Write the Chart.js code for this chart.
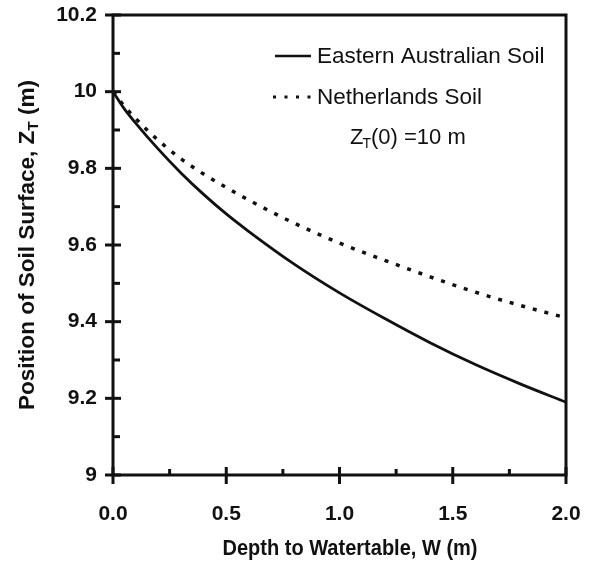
<!DOCTYPE html>
<html>
<head>
<meta charset="utf-8">
<script src="https://cdn.jsdelivr.net/npm/chart.js@4/dist/chart.umd.min.js"></script>
<style>
  html, body { margin: 0; padding: 0; background: #fff; }
  #wrap { width: 598px; height: 565px; }
</style>
</head>
<body>
<div id="wrap"><canvas id="c" width="598" height="565"></canvas></div>
<script>
// ---- data ----
const depthW = [0, 0.05, 0.1, 0.2, 0.3, 0.4, 0.5, 0.6, 0.8, 1.0, 1.2, 1.4, 1.6, 1.8, 2.0];
const easternAustralian = [10, 9.955, 9.918, 9.85, 9.788, 9.732, 9.681, 9.635, 9.55, 9.475, 9.408, 9.345, 9.288, 9.237, 9.19];
const netherlands = [10, 9.962, 9.93, 9.873, 9.825, 9.785, 9.75, 9.717, 9.657, 9.605, 9.56, 9.517, 9.477, 9.442, 9.41];
const seriesNames = ["Eastern Australian Soil", "Netherlands Soil"];
const xTitle = "Depth to Watertable, W (m)";
const yTitleParts = ["Position of Soil Surface, Z", "T", " (m)"];
const noteParts = ["Z", "T", "(0) =10 m"];

const INK = "#111";
const FONT = "'Liberation Sans', Arial, Helvetica, sans-serif";

function pts(xs, ys) { return xs.map((x, i) => ({ x: x, y: ys[i] })); }

const framePlugin = {
  id: "frame",
  afterDraw(chart) {
    const ctx = chart.ctx;
    const xs = chart.scales.x, ys = chart.scales.y;
    const a = chart.chartArea;
    ctx.save();
    ctx.strokeStyle = INK;
    ctx.lineWidth = 3;
    ctx.lineCap = "butt";
    // frame
    ctx.beginPath();
    ctx.moveTo(a.left - 1.5, a.top); ctx.lineTo(a.right + 1.5, a.top);
    ctx.moveTo(a.right, a.top); ctx.lineTo(a.right, a.bottom);
    ctx.moveTo(a.left, a.top); ctx.lineTo(a.left, a.bottom);
    ctx.moveTo(a.left - 1.5, a.bottom); ctx.lineTo(a.right + 1.5, a.bottom);
    ctx.stroke();
    // y ticks
    for (let k = 0; k <= 12; k++) {
      const v = 9 + k * 0.1;
      const py = ys.getPixelForValue(v);
      ctx.beginPath();
      if (k % 2 === 0) { ctx.moveTo(a.left - 8, py); ctx.lineTo(a.left + 8, py); }
      else { ctx.moveTo(a.left, py); ctx.lineTo(a.left + 7, py); }
      ctx.stroke();
    }
    // x ticks
    for (let k = 0; k <= 8; k++) {
      const v = k * 0.25;
      const px = xs.getPixelForValue(v);
      ctx.beginPath();
      if (k % 2 === 0) { ctx.moveTo(px, a.bottom - 8); ctx.lineTo(px, a.bottom + 9); }
      else { ctx.moveTo(px, a.bottom); ctx.lineTo(px, a.bottom - 6); }
      ctx.stroke();
    }
    // x title (slightly condensed, as in the reference)
    ctx.fillStyle = INK;
    ctx.textBaseline = "middle";
    ctx.save();
    ctx.translate(350, 549);
    ctx.scale(0.91, 1);
    ctx.font = "bold 22px " + FONT;
    ctx.textAlign = "center";
    ctx.fillText(xTitle, 0, 0);
    ctx.restore();

    // y title with subscript
    ctx.save();
    ctx.translate(28, 245);
    ctx.rotate(-Math.PI / 2);
    const big = "bold 22px " + FONT, small = "bold 15px " + FONT;
    ctx.font = big; const w0 = ctx.measureText(yTitleParts[0]).width;
    ctx.font = small; const w1 = ctx.measureText(yTitleParts[1]).width;
    ctx.font = big; const w2 = ctx.measureText(yTitleParts[2]).width;
    const tot = w0 + w1 + w2;
    ctx.scale(330 / tot, 1);
    let x0 = -tot / 2;
    ctx.textAlign = "left";
    ctx.font = big; ctx.fillText(yTitleParts[0], x0, 0);
    ctx.font = small; ctx.fillText(yTitleParts[1], x0 + w0, 6);
    ctx.font = big; ctx.fillText(yTitleParts[2], x0 + w0 + w1, 0);
    ctx.restore();

    // legend
    ctx.textAlign = "left";
    ctx.font = "22.5px " + FONT;
    ctx.lineWidth = 2.5;
    ctx.beginPath(); ctx.moveTo(275, 56); ctx.lineTo(311, 56); ctx.stroke();
    ctx.fillText(seriesNames[0], 317, 57);
    ctx.setLineDash([3, 8.5]);
    ctx.lineWidth = 3;
    ctx.beginPath(); ctx.moveTo(273, 97); ctx.lineTo(311, 97); ctx.stroke();
    ctx.setLineDash([]);
    ctx.fillText(seriesNames[1], 317, 98);
    // note
    ctx.font = "22px " + FONT; const n0 = ctx.measureText(noteParts[0]).width;
    ctx.font = "14px " + FONT; const n1 = ctx.measureText(noteParts[1]).width;
    let nx = 350;
    ctx.font = "22px " + FONT; ctx.fillText(noteParts[0], nx, 138);
    ctx.font = "14px " + FONT; ctx.fillText(noteParts[1], nx + n0 - 1, 144);
    ctx.font = "22px " + FONT; ctx.fillText(noteParts[2], nx + n0 + n1 - 1, 138);
    ctx.restore();
  }
};

new Chart(document.getElementById("c"), {
  type: "line",
  data: {
    datasets: [
      {
        label: seriesNames[0],
        data: pts(depthW, easternAustralian),
        borderColor: INK,
        borderWidth: 2.8,
        pointRadius: 0,
        cubicInterpolationMode: "monotone",
        fill: false
      },
      {
        label: seriesNames[1],
        data: pts(depthW, netherlands),
        borderColor: INK,
        borderWidth: 3.5,
        borderDash: [4, 8],
        pointRadius: 0,
        cubicInterpolationMode: "monotone",
        fill: false
      }
    ]
  },
  options: {
    responsive: false,
    animation: false,
    devicePixelRatio: 1,
    layout: { padding: { left: 0, top: 15, right: 32, bottom: 0 } },
    plugins: { legend: { display: false }, tooltip: { enabled: false } },
    scales: {
      x: {
        type: "linear",
        min: 0, max: 2,
        grid: { display: false, drawTicks: false },
        border: { display: false },
        ticks: {
          stepSize: 0.5,
          padding: 27,
          color: INK,
          font: { family: FONT, size: 21, weight: "bold" },
          callback: (v) => Number(v).toFixed(1),
          maxRotation: 0
        },
        afterFit: (s) => { s.height = 90; s.paddingLeft = 0; s.paddingRight = 0; }
      },
      y: {
        type: "linear",
        min: 9, max: 10.2,
        grid: { display: false, drawTicks: false },
        border: { display: false },
        ticks: {
          stepSize: 0.2,
          padding: 16,
          color: INK,
          font: { family: FONT, size: 21, weight: "bold" },
          callback: (v) => String(Number(Number(v).toFixed(1)))
        },
        afterFit: (s) => { s.width = 113; s.paddingTop = 0; s.paddingBottom = 0; }
      }
    }
  },
  plugins: [framePlugin]
});
</script>
</body>
</html>
